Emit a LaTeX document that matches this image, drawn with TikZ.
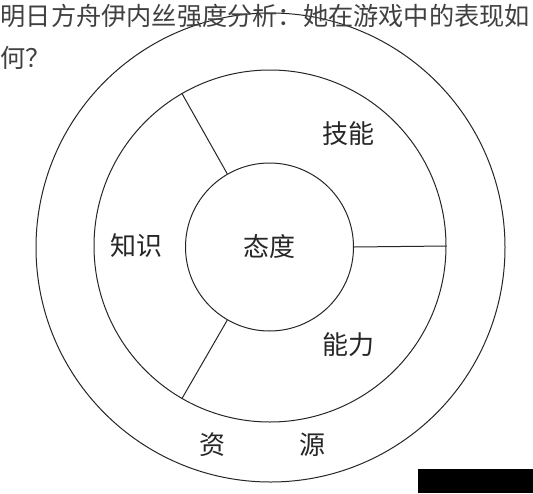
\documentclass[tikz,border=0pt]{standalone}
\usepackage{fontspec}
\newfontfamily\cjk{Noto Sans CJK SC}
\begin{document}
\begin{tikzpicture}[x=1pt,y=-1pt,
  ring/.style={circle,draw=black!85,line width=1pt,inner sep=0pt},
  spoke/.style={draw=black!85,line width=1pt},
  lbl/.style={font=\cjk\fontsize{26}{30}\selectfont,text=black!85,inner sep=0pt},
  ttl/.style={font=\cjk\fontsize{25.2}{30}\selectfont,text=black!75,inner sep=0pt,anchor=west}]
\useasboundingbox (0,0) rectangle (533,493);
\fill[white] (0,0) rectangle (533,493);
\node[ring,minimum size=469pt] (outer) at (270.5,247.5) {};
\node[ring,minimum size=352pt] (mid) at (270,246) {};
\node[ring,minimum size=168pt,lbl] (inner) at (269.5,247) {态度};
\draw[spoke] (inner.120) -- (mid.120);
\draw[spoke] (inner.0) -- (mid.0);
\draw[spoke] (inner.240) -- (mid.240);
\node[lbl] (jineng) at (348,134) {技能};
\node[lbl] (zhishi) at (136,246) {知识};
\node[lbl] (nengli) at (348,345) {能力};
\node[lbl] (zi) at (212,445) {资};
\node[lbl] (yuan) at (312,445) {源};
\node[ttl] (t1) at (0.5,15.5) {明日方舟伊内丝强度分析：她在游戏中的表现如};
\node[ttl] (t2) at (0.5,57.5) {何？};
\fill[black] (418,469) rectangle (533,493);
\end{tikzpicture}
\end{document}
